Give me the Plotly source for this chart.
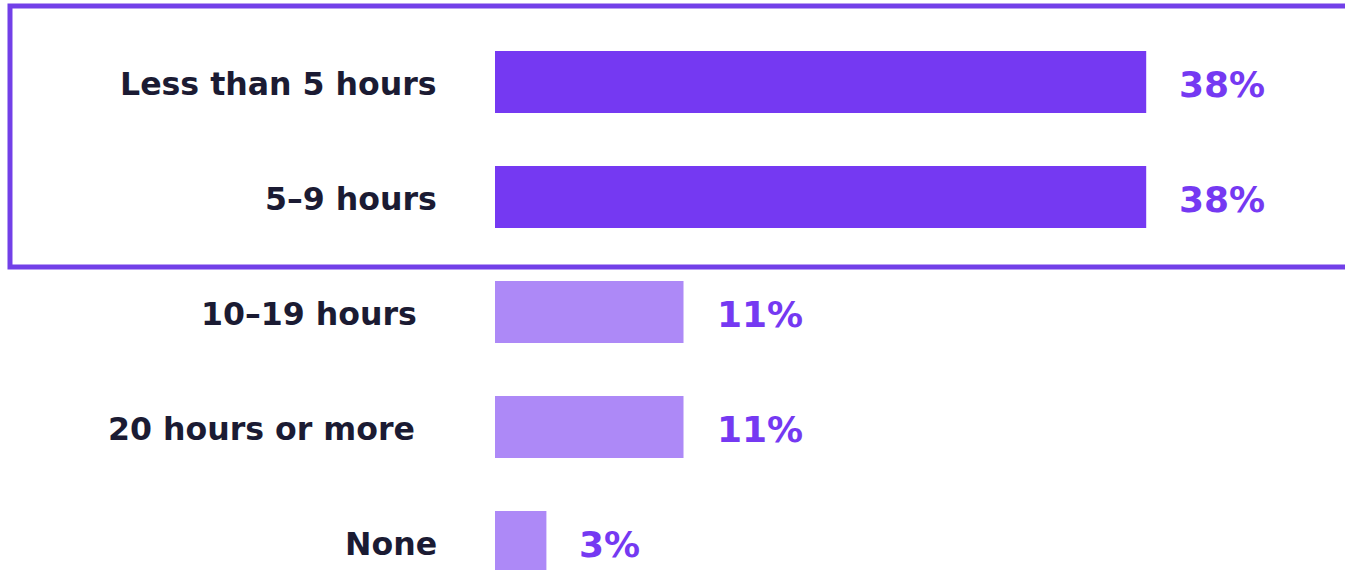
import plotly.graph_objects as go

# Survey answers: weekly hours
categories = ["Less than 5 hours", "5–9 hours", "10–19 hours", "20 hours or more", "None"]
shares = [38, 38, 11, 11, 3]
value_labels = ["38%", "38%", "11%", "11%", "3%"]
highlighted = [True, True, False, False, False]

DARK = "#7539F2"
LIGHT = "#AD89F7"
TEXT = "#1B1B33"
FONT = "DejaVu Sans"

# right edge of each category label, relative to the bar baseline (px)
label_shift = [-56, -56, -76, -78, -56]

fig = go.Figure(
    go.Bar(
        x=shares,
        y=categories,
        orientation="h",
        marker=dict(color=[DARK if h else LIGHT for h in highlighted], line=dict(width=0)),
        width=0.54,
        hoverinfo="skip",
    )
)

for cat, shift in zip(categories, label_shift):
    fig.add_annotation(
        x=0, xref="paper", y=cat, yref="y",
        text=f"<b>{cat}</b>", showarrow=False,
        xanchor="right", yanchor="middle", xshift=shift, yshift=-2,
        font=dict(family=FONT, size=31.6, color=TEXT),
    )

for cat, val, lab in zip(categories, shares, value_labels):
    fig.add_annotation(
        x=val, xref="x", y=cat, yref="y",
        text=f"<b>{lab}</b>", showarrow=False,
        xanchor="left", yanchor="middle", xshift=31, yshift=-2,
        font=dict(family=FONT, size=36, color=DARK),
    )

# frame around the two highlighted rows
fig.add_shape(
    type="rect", xref="paper", yref="paper",
    x0=-0.5706, x1=1.01, y0=1 - 267 / 570, y1=1 - 6 / 570,
    line=dict(color="#7240E8", width=5), fillcolor="rgba(0,0,0,0)", layer="above",
)

fig.update_layout(
    width=1345, height=570, autosize=False,
    margin=dict(l=495, r=0, t=0, b=0),
    paper_bgcolor="white", plot_bgcolor="white",
    showlegend=False,
    bargap=0.46,
    xaxis=dict(range=[0, 49.6], visible=False, fixedrange=True),
    yaxis=dict(
        type="category", range=[4.243, -0.713], visible=False,
        categoryorder="array", categoryarray=categories, fixedrange=True,
    ),
)

fig.write_html("out.html", config={"displayModeBar": False})
